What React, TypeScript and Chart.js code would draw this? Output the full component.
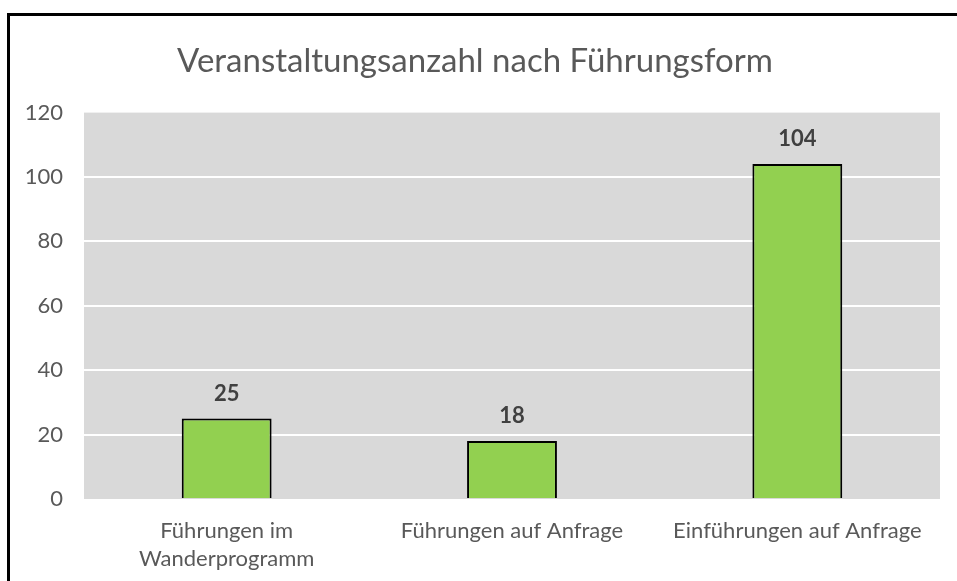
import React, { useEffect, useRef } from "react";
import { Chart, registerables } from "chart.js";

Chart.register(...registerables);

const titleText = "Veranstaltungsanzahl nach Führungsform";
const categories: (string | string[])[] = [
  ["Führungen im", "Wanderprogramm"],
  "Führungen auf Anfrage",
  "Einführungen auf Anfrage",
];
const values = [25, 18, 104];
const yTicks = [0, 20, 40, 60, 80, 100, 120];

const FONT = "Lato, 'Open Sans', sans-serif";
const TEXT = "#595959";

const plotBg = {
  id: "plotBg",
  beforeDraw(chart: any) {
    const { ctx, chartArea } = chart;
    ctx.save();
    ctx.fillStyle = "#d9d9d9";
    ctx.fillRect(chartArea.left, chartArea.top, chartArea.right - chartArea.left, chartArea.bottom - chartArea.top);
    ctx.restore();
  },
};

const dataLabels = {
  id: "dataLabels",
  afterDatasetsDraw(chart: any) {
    const { ctx } = chart;
    const meta = chart.getDatasetMeta(0);
    ctx.save();
    ctx.font = `bold 22px ${FONT}`;
    ctx.fillStyle = "#404040";
    ctx.textAlign = "center";
    ctx.textBaseline = "middle";
    meta.data.forEach((bar: any, i: number) => {
      ctx.fillText(String(values[i]), bar.x, bar.y - 25);
    });
    ctx.restore();
  },
};

export default function App() {
  const ref = useRef<HTMLCanvasElement | null>(null);
  useEffect(() => {
    if (!ref.current) return;
    const chart = new Chart(ref.current, {
      type: "bar",
      data: {
        labels: categories as any,
        datasets: [
          {
            data: values,
            backgroundColor: "#92d050",
            borderColor: "#000000",
            borderWidth: 2,
            barPercentage: 0.315,
            categoryPercentage: 1,
          },
        ],
      },
      options: {
        animation: false,
        responsive: false,
        layout: { padding: { left: 0, right: 7, top: 0, bottom: 0 } },
        plugins: {
          legend: { display: false },
          tooltip: { enabled: false },
          title: {
            display: true,
            text: titleText,
            color: TEXT,
            font: { family: FONT, size: 33, weight: "normal" as any, lineHeight: 1.2 },
            padding: { top: 42, bottom: 31 },
          },
        },
        scales: {
          x: {
            grid: { display: false, drawTicks: false },
            border: { display: false },
            ticks: {
              color: TEXT,
              font: { family: FONT, size: 22, lineHeight: 1.27 },
              padding: 18,
              maxRotation: 0,
              autoSkip: false,
            },
            afterFit(scale: any) {
              scale.height = 82;
            },
          },
          y: {
            min: 0,
            max: 120,
            afterBuildTicks(scale: any) {
              scale.ticks = yTicks.map((v) => ({ value: v }));
            },
            grid: {
              color: (c: any) => (c.tick && (c.tick.value === 0 || c.tick.value === 120) ? "rgba(0,0,0,0)" : "#ffffff"),
              lineWidth: 2,
              drawTicks: false,
            },
            border: { display: false },
            ticks: {
              color: TEXT,
              font: { family: FONT, size: 22 },
              padding: 21,
            },
            afterFit(scale: any) {
              scale.width = 84;
            },
          },
          yRight: {
            position: "right",
            min: 0,
            max: 120,
            grid: { display: false, drawTicks: false },
            border: { display: false },
            ticks: { display: false },
            afterFit(scale: any) {
              scale.width = 10;
            },
          },
        },
      },
      plugins: [plotBg, dataLabels],
    });
    return () => chart.destroy();
  }, []);

  return (
    <div style={{ position: "fixed", left: 0, top: 0, width: 957, height: 581, background: "#fff", overflow: "hidden" }}>
      <canvas ref={ref} width={957} height={581} style={{ display: "block", width: 957, height: 581 }} />
      <div
        style={{
          position: "absolute",
          left: 7,
          top: 13,
          width: 1100,
          height: 700,
          border: "3px solid #000",
          boxSizing: "border-box",
          pointerEvents: "none",
        }}
      />
    </div>
  );
}
